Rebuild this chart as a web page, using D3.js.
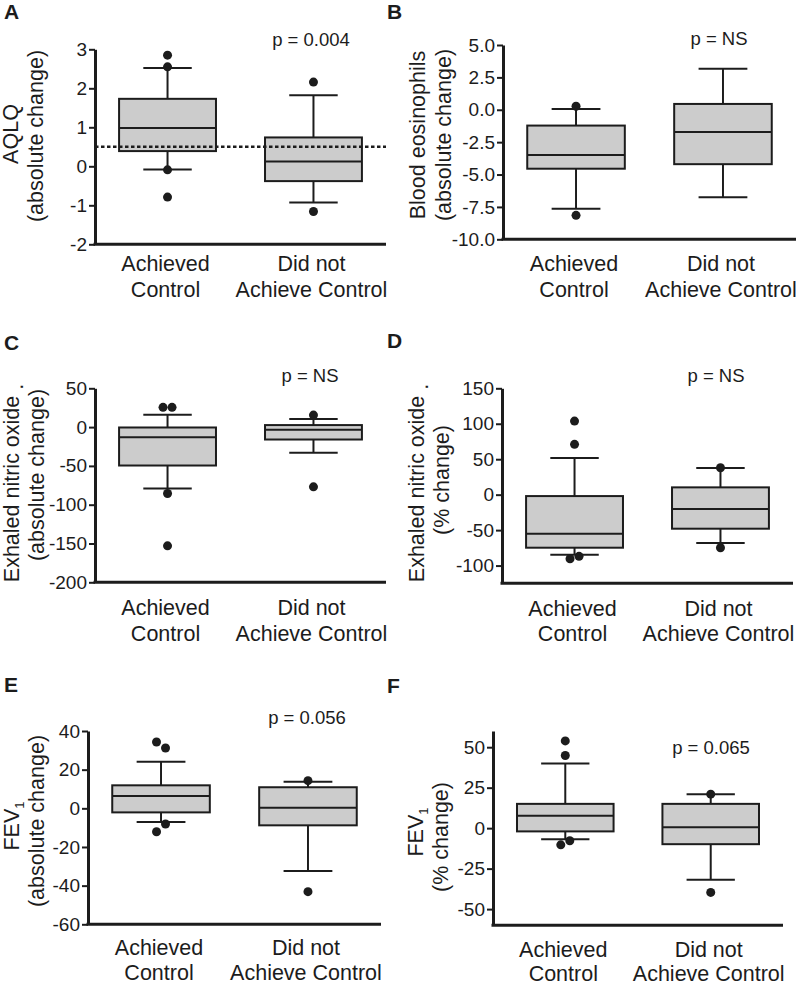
<!DOCTYPE html>
<html>
<head>
<meta charset="utf-8">
<script src="https://cdn.jsdelivr.net/npm/d3@7"></script>
<style>
  html, body { margin: 0; padding: 0; background: #ffffff; }
  svg { display: block; }
</style>
</head>
<body>
<svg id="chart" width="796" height="986"></svg>
<script>
// ---------------- DATA ----------------
const groups = ["Achieved Control", "Did not Achieve Control"];
const groupLines = [["Achieved", "Control"], ["Did not", "Achieve Control"]];

// box stats per group: [lower whisker, Q1, median, Q3, upper whisker]
const aqlqStats = [[-0.08, 0.39, 0.98, 1.73, 2.52], [-0.93, -0.38, 0.12, 0.74, 1.82]];
const aqlqOutliers = [[2.85, 2.55, -0.09, -0.79], [2.16, -1.16]];
const aqlqTicks = [-2, -1, 0, 1, 2, 3];
const aqlqThreshold = 0.5;

const eosStats = [[-7.65, -4.55, -3.5, -1.22, 0.05], [-6.75, -4.2, -1.72, 0.45, 3.17]];
const eosOutliers = [[0.27, -8.15], []];
const eosTicks = [-10, -7.5, -5, -2.5, 0, 2.5, 5];

const fenoAbsStats = [[-79, -49.5, -13, -0.5, 16], [-33, -16, -3.5, 2.6, 10.3]];
const fenoAbsOutliers = [[25.5, 25.5, -85.5, -153], [15.5, -77]];
const fenoAbsTicks = [-200, -150, -100, -50, 0, 50];

const fenoPctStats = [[-84.6, -74.8, -55, -2, 51.6], [-68.3, -48, -20.3, 10.3, 37.5]];
const fenoPctOutliers = [[103.8, 71, -90.3, -87], [38, -74.8]];
const fenoPctTicks = [-100, -50, 0, 50, 100, 150];

const fevAbsStats = [[-7.1, -2.1, 6.4, 11.9, 24.1], [-32.4, -8.8, 0.3, 10.9, 13.8]];
const fevAbsOutliers = [[34.3, 31.2, -8.1, -12.1], [14.3, -43.1]];
const fevAbsTicks = [-60, -40, -20, 0, 20, 40];

const fevPctStats = [[-6.8, -2, 7.6, 15, 39.9], [-31.9, -9.9, 0.6, 15, 21]];
const fevPctOutliers = [[53.9, 44.9, -10.3, -7.8], [21, -39.7]];
const fevPctTicks = [-50, -25, 0, 25, 50];

const pValues = ["p = 0.004", "p = NS", "p = NS", "p = NS", "p = 0.056", "p = 0.065"];

// ---------------- STYLE / LAYOUT ----------------
const ink = "#1c1c1c";
const boxFill = "#cccccc";
const font = "'Liberation Sans', Arial, Helvetica, sans-serif";
const hy = f => (v => f(v).replace("\u2212", "-"));

const panels = [
  { letter: "A", lx: 4, ly: 19, x0: 95, x1: 386, yTop: 49.3, yBot: 244.3, domain: [-2, 3],
    stats: aqlqStats, outliers: aqlqOutliers, ticks: aqlqTicks, fmt: hy(d3.format("d")),
    yl: [{ t: "AQLQ", x: 18, y: 134 }, { t: "(absolute change)", x: 43, y: 136 }],
    p: { x: 311, y: 46 }, xl: [271, 297], threshold: aqlqThreshold },
  { letter: "B", lx: 387, ly: 19, x0: 503, x1: 796, yTop: 45, yBot: 239.3, domain: [-10, 5],
    stats: eosStats, outliers: eosOutliers, ticks: eosTicks, fmt: hy(d3.format(".1f")),
    yl: [{ t: "Blood eosinophils", x: 425, y: 135 }, { t: "(absolute change)", x: 451, y: 135 }],
    p: { x: 719, y: 45 }, xl: [271, 297] },
  { letter: "C", lx: 4, ly: 350, x0: 95, x1: 386, yTop: 388.3, yBot: 582.3, domain: [-200, 50],
    stats: fenoAbsStats, outliers: fenoAbsOutliers, ticks: fenoAbsTicks, fmt: hy(d3.format("d")),
    yl: [{ t: "Exhaled nitric oxide", dot: true, x: 19, y: 483 }, { t: "(absolute change)", x: 44, y: 475 }],
    p: { x: 310, y: 382 }, xl: [615, 641] },
  { letter: "D", lx: 387, ly: 348, x0: 502, x1: 793, yTop: 388.3, yBot: 583.3, domain: [-125, 150],
    stats: fenoPctStats, outliers: fenoPctOutliers, ticks: fenoPctTicks, fmt: hy(d3.format("d")),
    yl: [{ t: "Exhaled nitric oxide", dot: true, x: 424, y: 483 }, { t: "(% change)", x: 449, y: 480 }],
    p: { x: 716, y: 382 }, xl: [616, 641] },
  { letter: "E", lx: 4, ly: 692, x0: 88, x1: 381, yTop: 731, yBot: 924.3, domain: [-60, 40],
    stats: fevAbsStats, outliers: fevAbsOutliers, ticks: fevAbsTicks, fmt: hy(d3.format("d")),
    yl: [{ t: "FEV", sub: "1", x: 19, y: 826 }, { t: "(absolute change)", x: 44, y: 821 }],
    p: { x: 307, y: 724 }, xl: [955, 980] },
  { letter: "F", lx: 387, ly: 693, x0: 493, x1: 783, yTop: 731, yBot: 925.3, domain: [-60, 60],
    stats: fevPctStats, outliers: fevPctOutliers, ticks: fevPctTicks, fmt: hy(d3.format("d")),
    yl: [{ t: "FEV", sub: "1", x: 423, y: 832 }, { t: "(% change)", x: 448, y: 837 }],
    p: { x: 711, y: 754 }, xl: [957, 981] }
];

const svg = d3.select("#chart").attr("font-family", font);

panels.forEach((cfg, i) => {
  const g = svg.append("g");

  const x = d3.scaleBand().domain(groups).range([cfg.x0, cfg.x1])
    .paddingInner(0.336).paddingOuter(0.165);
  const y = d3.scaleLinear().domain(cfg.domain).range([cfg.yBot, cfg.yTop]);
  const bw = x.bandwidth();

  // panel letter
  g.append("text").attr("x", cfg.lx).attr("y", cfg.ly)
    .attr("font-size", 21).attr("font-weight", "bold").attr("fill", ink)
    .text(cfg.letter);

  // y axis
  const ax = g.append("g").attr("transform", `translate(${cfg.x0},0)`)
    .call(d3.axisLeft(y).tickValues(cfg.ticks).tickFormat(cfg.fmt)
      .tickSize(6).tickPadding(2).tickSizeOuter(0));
  ax.select(".domain").attr("stroke", ink).attr("stroke-width", 3);
  ax.selectAll(".tick line").attr("stroke", ink).attr("stroke-width", 2);
  ax.selectAll(".tick text").attr("font-size", 19).attr("fill", ink)
    .attr("font-family", font);

  // x axis baseline
  g.append("line").attr("x1", cfg.x0 - 1.5).attr("x2", cfg.x1)
    .attr("y1", y(cfg.domain[0])).attr("y2", y(cfg.domain[0]))
    .attr("stroke", ink).attr("stroke-width", 3);

  // y labels
  cfg.yl.forEach(l => {
    const t = g.append("text")
      .attr("transform", `translate(${l.x},${l.y}) rotate(-90)`)
      .attr("text-anchor", "middle").attr("font-size", 21.5).attr("fill", ink);
    t.append("tspan").text(l.t);
    if (l.sub) t.append("tspan").attr("font-size", 13).attr("dy", 5).text(l.sub);
    if (l.dot) t.append("tspan").attr("dy", 4).text(" .");
  });

  // x category labels
  groups.forEach((grp, gi) => {
    const cx = x(grp) + bw / 2 - 2;
    groupLines[gi].forEach((line, li) => {
      g.append("text").attr("x", cx).attr("y", cfg.xl[li])
        .attr("text-anchor", "middle").attr("font-size", 21.5).attr("fill", ink)
        .text(line);
    });
  });

  // boxes
  groups.forEach((grp, gi) => {
    const [wlo, q1, med, q3, whi] = cfg.stats[gi];
    const left = x(grp), cx = left + bw / 2;
    const bg = g.append("g").attr("stroke", ink).attr("stroke-width", 2);
    bg.append("line").attr("x1", cx).attr("x2", cx).attr("y1", y(q3)).attr("y2", y(whi));
    bg.append("line").attr("x1", cx).attr("x2", cx).attr("y1", y(q1)).attr("y2", y(wlo));
    bg.append("line").attr("x1", cx - bw / 4).attr("x2", cx + bw / 4).attr("y1", y(whi)).attr("y2", y(whi));
    bg.append("line").attr("x1", cx - bw / 4).attr("x2", cx + bw / 4).attr("y1", y(wlo)).attr("y2", y(wlo));
    bg.append("rect").attr("x", left).attr("width", bw)
      .attr("y", y(q3)).attr("height", y(q1) - y(q3)).attr("fill", boxFill);
    bg.append("line").attr("x1", left).attr("x2", left + bw).attr("y1", y(med)).attr("y2", y(med));
  });

  // threshold line (panel A)
  if (cfg.threshold !== undefined) {
    g.append("line").attr("x1", cfg.x0).attr("x2", cfg.x1)
      .attr("y1", y(cfg.threshold)).attr("y2", y(cfg.threshold))
      .attr("stroke", ink).attr("stroke-width", 2.5).attr("stroke-dasharray", "3.5,2.5");
  }

  // outliers with simple collision offset
  groups.forEach((grp, gi) => {
    const cx = x(grp) + bw / 2;
    const med = cfg.stats[gi][2];
    const pts = cfg.outliers[gi].map(v => ({ v, py: y(v), dx: 0 }));
    for (let a = 0; a < pts.length; a++) {
      for (let b = a + 1; b < pts.length; b++) {
        if (Math.abs(pts[a].py - pts[b].py) < 9 && pts[a].dx === 0 && pts[b].dx === 0) {
          const fa = Math.abs(pts[a].v - med), fb = Math.abs(pts[b].v - med);
          if (fa >= fb) { pts[a].dx = -4.5; pts[b].dx = 4.5; }
          else { pts[a].dx = 4.5; pts[b].dx = -4.5; }
        }
      }
    }
    g.selectAll(null).data(pts).join("circle")
      .attr("cx", d => cx + d.dx).attr("cy", d => d.py).attr("r", 4.5).attr("fill", ink);
  });

  // p value
  g.append("text").attr("x", cfg.p.x).attr("y", cfg.p.y).attr("text-anchor", "middle")
    .attr("font-size", 18.5).attr("fill", ink).text(pValues[i]);
});
</script>
</body>
</html>
